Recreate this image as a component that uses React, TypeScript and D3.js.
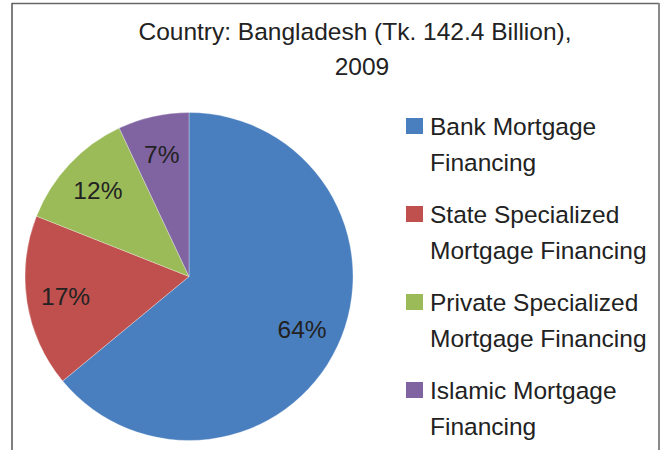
import React from "react";
import * as d3 from "d3";

const titleLines = ["Country: Bangladesh (Tk. 142.4 Billion),", "2009"];
const categories = [
  "Bank Mortgage Financing",
  "State Specialized Mortgage Financing",
  "Private Specialized Mortgage Financing",
  "Islamic Mortgage Financing",
];
const legendLines = [
  ["Bank Mortgage", "Financing"],
  ["State Specialized", "Mortgage Financing"],
  ["Private Specialized", "Mortgage Financing"],
  ["Islamic Mortgage", "Financing"],
];
const shares = [64, 17, 12, 7];
const colors = ["#4A7FBF", "#C0504D", "#9BBB59", "#8064A2"];

const W = 661;
const H = 450;
const FONT = "'Liberation Sans', Arial, sans-serif";
const FS = 24.5;
const TEXT = "#222222";

export default function App() {
  const cx = 189;
  const cy = 276.5;
  const r = 164;
  const pie = d3
    .pie<number>()
    .sort(null)
    .value((d) => d)
    .startAngle(0)
    .endAngle(2 * Math.PI);
  const arcs = pie(shares);
  const arc = d3.arc<d3.PieArcDatum<number>>().innerRadius(0).outerRadius(r);
  const labelArc = d3
    .arc<d3.PieArcDatum<number>>()
    .innerRadius(125)
    .outerRadius(125);

  const legendStartY = 135;
  const legendStep = 88;
  const lineH = 35.5;

  return (
    <svg
      width={W}
      height={H}
      style={{ position: "absolute", left: 0, top: 0, background: "#fff" }}
      fontFamily={FONT}
    >
      <rect x={0} y={0} width={W} height={H} fill="#fff" />
      <line x1={12} y1={3.5} x2={659} y2={3.5} stroke="#666" strokeWidth={1.5} />
      <line x1={12} y1={3} x2={12} y2={H} stroke="#555" strokeWidth={1.5} />
      <line x1={659} y1={3} x2={659} y2={H} stroke="#8a8a8a" strokeWidth={2} />

      <text x={355} y={40} textAnchor="middle" fontSize={FS} fill={TEXT}>
        {titleLines[0]}
      </text>
      <text x={362} y={75} textAnchor="middle" fontSize={FS} fill={TEXT}>
        {titleLines[1]}
      </text>

      <g transform={`translate(${cx},${cy})`}>
        {arcs.map((a, i) => (
          <path
            key={categories[i]}
            d={arc(a) || ""}
            fill={colors[i]}
            stroke="#ffffff"
            strokeOpacity={0.5}
            strokeWidth={0.6}
          />
        ))}
        {arcs.map((a, i) => {
          const [lx, ly] = labelArc.centroid(a);
          return (
            <text
              key={"l" + i}
              x={lx}
              y={ly}
              textAnchor="middle"
              dominantBaseline="central"
              fontSize={FS}
              fill={TEXT}
            >
              {shares[i]}%
            </text>
          );
        })}
      </g>

      {legendLines.map((lines, i) => {
        const by = legendStartY + i * legendStep;
        return (
          <g key={"lg" + i}>
            <rect x={406} y={by - 17} width={17} height={16} fill={colors[i]} />
            {lines.map((t, j) => (
              <text
                key={j}
                x={430}
                y={by + j * lineH}
                fontSize={FS}
                fill={TEXT}
              >
                {t}
              </text>
            ))}
          </g>
        );
      })}
    </svg>
  );
}
